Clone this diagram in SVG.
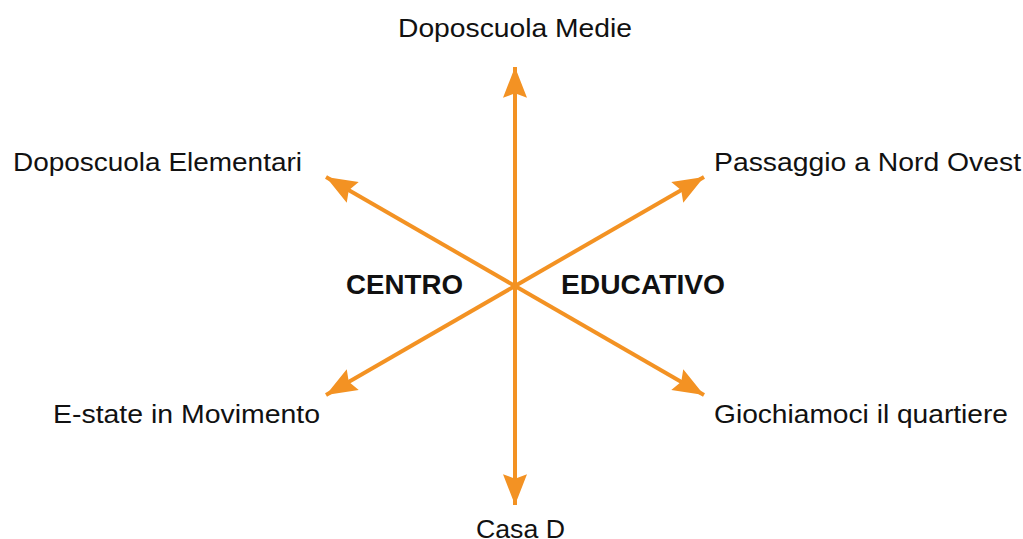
<svg xmlns="http://www.w3.org/2000/svg" width="1023" height="539" viewBox="0 0 1023 539">
<style>
.lbl{font-family:"Liberation Sans",Arial,sans-serif;font-size:26px;fill:#111}
.bold{font-weight:bold;font-size:28px}
.ln{stroke:#F39223;stroke-width:4;fill:none;marker-end:url(#ah)}
</style>
<defs>
<marker id="ah" markerUnits="userSpaceOnUse" markerWidth="40" markerHeight="40" viewBox="-30 -15 35 30" refX="0" refY="0" orient="auto">
<path d="M0,0 L-27,-10.5 L-23,0 L-27,10.5 Z" fill="#F39223"/>
</marker>
</defs>
<rect width="1023" height="539" fill="#fff"/>
<g id="connectors">
<line class="ln" x1="515" y1="286" x2="515" y2="67"/>
<line class="ln" x1="515" y1="286" x2="515" y2="505"/>
<line class="ln" x1="515" y1="286" x2="326" y2="177"/>
<line class="ln" x1="515" y1="286" x2="704" y2="177"/>
<line class="ln" x1="515" y1="286" x2="326" y2="395"/>
<line class="ln" x1="515" y1="286" x2="704" y2="395"/>
</g>
<g id="center">
<text class="lbl bold" x="346" y="294" textLength="117" lengthAdjust="spacingAndGlyphs">CENTRO</text>
<text class="lbl bold" x="561" y="294" textLength="164" lengthAdjust="spacingAndGlyphs">EDUCATIVO</text>
</g>
<g id="n-medie"><text class="lbl" x="398" y="37" textLength="234" lengthAdjust="spacingAndGlyphs">Doposcuola Medie</text></g>
<g id="n-elementari"><text class="lbl" x="13" y="171" textLength="289" lengthAdjust="spacingAndGlyphs">Doposcuola Elementari</text></g>
<g id="n-passaggio"><text class="lbl" x="714" y="171" textLength="307" lengthAdjust="spacingAndGlyphs">Passaggio a Nord Ovest</text></g>
<g id="n-estate"><text class="lbl" x="53" y="423" textLength="267" lengthAdjust="spacingAndGlyphs">E-state in Movimento</text></g>
<g id="n-giochiamoci"><text class="lbl" x="714" y="423" textLength="294" lengthAdjust="spacingAndGlyphs">Giochiamoci il quartiere</text></g>
<g id="n-casa"><text class="lbl" x="476" y="538" textLength="89" lengthAdjust="spacingAndGlyphs">Casa D</text></g>
</svg>
